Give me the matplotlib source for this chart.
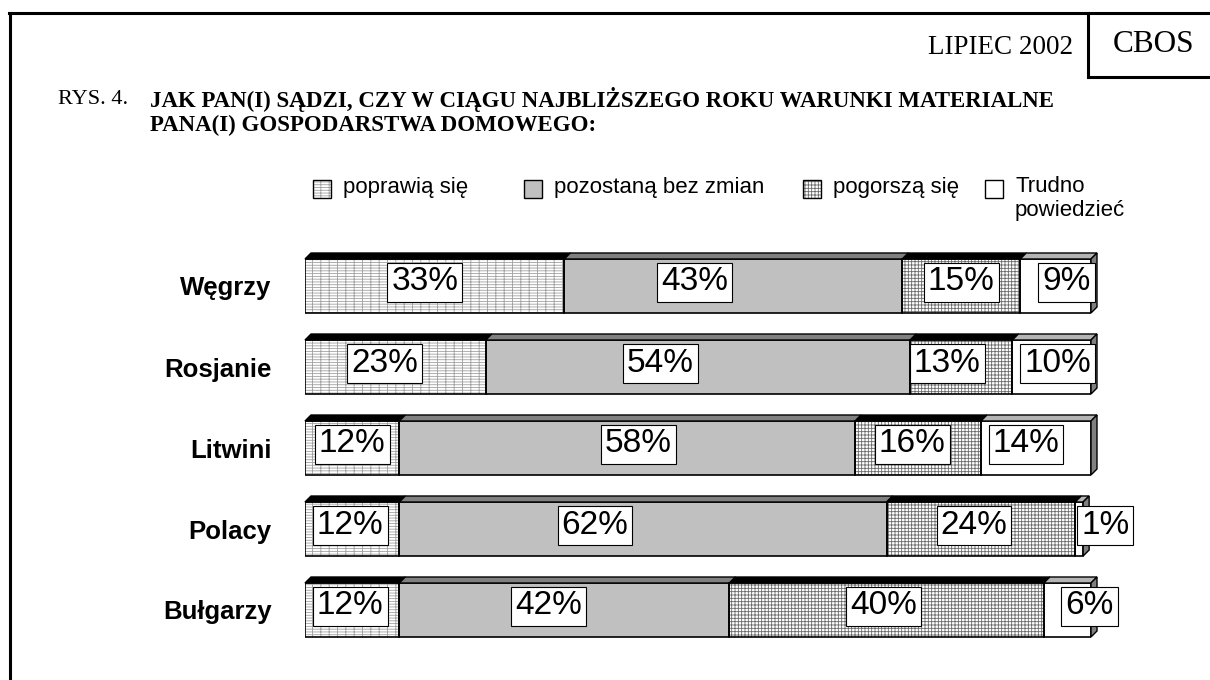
import numpy as np
import matplotlib.pyplot as plt
from matplotlib.patches import Polygon, Rectangle
from matplotlib.lines import Line2D

plt.rcParams['font.family'] = ['Liberation Sans', 'DejaVu Sans']
plt.rcParams['hatch.linewidth'] = 0.6

# data (percent of answers)
countries = ['Węgrzy', 'Rosjanie', 'Litwini', 'Polacy', 'Bułgarzy']
answers = ['poprawią się', 'pozostaną bez zmian', 'pogorszą się', 'Trudno\npowiedzieć']
better = [33, 23, 12, 12, 12]
same = [43, 54, 58, 62, 42]
worse = [15, 13, 16, 24, 40]
dunno = [9, 10, 14, 1, 6]
series = [better, same, worse, dunno]

# styling of the four segments
face = ['white', '#c0c0c0', 'white', 'white']
hatches = ['------||', None, '+++++', None]
hatch_col = ['#a0a0a0', '#c0c0c0', '#6a6a6a', 'white']
top_col = ['black', '#808080', 'black', '#b4b4b4']
# how far Excel moved each data label from the segment centre (px)
nudge = [[-10, -39, 0, 11],
         [-11, -38, -14, 6],
         [0, 11, -6, -10],
         [-2, -48, -7, 26],
         [-2, -16, -3, 22]]

W, H = 1210, 680
fig = plt.figure(figsize=(W / 100, H / 100), dpi=100)

def fx(px):
    return px / W

def fy(py):
    return 1 - py / H

# page frame and the CBOS box
for xs, ys in [([9, W], [13, 13]), ([10, 10], [13, H]),
               ([1088, 1088], [13, 77]), ([1088, W], [77, 77])]:
    fig.add_artist(Line2D([fx(x) for x in xs], [fy(y) for y in ys],
                          color='black', lw=2.2, solid_capstyle='projecting'))

serif = ['Liberation Serif', 'DejaVu Serif']
fig.text(fx(1073), fy(47), 'LIPIEC 2002', family=serif, fontsize=19.5,
         ha='right', va='center')
fig.text(fx(1154), fy(44), 'CBOS', family=serif, fontsize=22.5,
         ha='center', va='center')
fig.text(fx(58), fy(100), 'RYS. 4.', family=serif, fontsize=16, va='center')
fig.text(fx(150), fy(100), 'JAK PAN(I) SĄDZI, CZY W CIĄGU NAJBLIŻSZEGO ROKU WARUNKI MATERIALNE',
         family=serif, fontsize=16.5, fontweight='bold', va='center')
fig.text(fx(150), fy(125), 'PANA(I) GOSPODARSTWA DOMOWEGO:',
         family=serif, fontsize=16.5, fontweight='bold', va='center')

# legend
leg_x = [313, 524, 803, 985]
sq = 18
for i, name in enumerate(answers):
    fig.add_artist(Rectangle((fx(leg_x[i]), fy(198)), fx(sq), sq / H,
                             transform=fig.transFigure, facecolor=face[i],
                             edgecolor=hatch_col[i], hatch=hatches[i], lw=0))
    fig.add_artist(Rectangle((fx(leg_x[i]), fy(198)), fx(sq), sq / H,
                             transform=fig.transFigure, fill=False,
                             edgecolor='black', lw=1))
    multi = '\n' in name
    fig.text(fx(leg_x[i] + 30), fy(176) if multi else fy(188), name, fontsize=16,
             va='top' if multi else 'center', linespacing=1.2)

# bars
ax = fig.add_axes([fx(305), fy(650.5), 786 / W, 405 / H])
ax.set_xlim(0, 100)
ax.set_ylim(len(countries) - 0.5, -0.5)
ax.set_frame_on(False)
ax.set_xticks([])
ax.set_yticks(range(len(countries)), countries, fontsize=18.5, fontweight='bold')
ax.tick_params(axis='y', length=0, pad=24)

y = np.arange(len(countries))
bh = 54 / 81
depth = 6
ddx = depth * 100 / 786
ddy = depth * len(countries) / 405

left = np.zeros(len(countries))
for k, vals in enumerate(series):
    vals = np.array(vals, dtype=float)
    ax.barh(y, vals, left=left, height=bh, color=face[k], edgecolor=hatch_col[k],
            hatch=hatches[k], lw=0, zorder=2)
    ax.barh(y, vals, left=left, height=bh, fill=False, edgecolor='black',
            lw=1.2, zorder=3)
    for i in range(len(countries)):
        l, r = left[i], left[i] + vals[i]
        top = y[i] - bh / 2
        ax.add_patch(Polygon([(l, top), (r, top), (r + ddx, top - ddy), (l + ddx, top - ddy)],
                             closed=True, facecolor=top_col[k], edgecolor='black',
                             lw=1, zorder=3, clip_on=False))
        ax.annotate(f'{int(vals[i])}%', (l + vals[i] / 2, y[i]),
                    xytext=(nudge[i][k], 4), textcoords='offset pixels',
                    ha='center', va='center', fontsize=24, zorder=6,
                    bbox=dict(boxstyle='square,pad=0.12', fc='white', ec='black', lw=0.8))
    left = left + vals

# right side face of each bar
for i in range(len(countries)):
    R = left[i]
    top, bot = y[i] - bh / 2, y[i] + bh / 2
    ax.add_patch(Polygon([(R, top), (R + ddx, top - ddy), (R + ddx, bot - ddy), (R, bot)],
                         closed=True, facecolor='#808080', edgecolor='black',
                         lw=1, zorder=3, clip_on=False))

fig.savefig('out.png', dpi=100)
